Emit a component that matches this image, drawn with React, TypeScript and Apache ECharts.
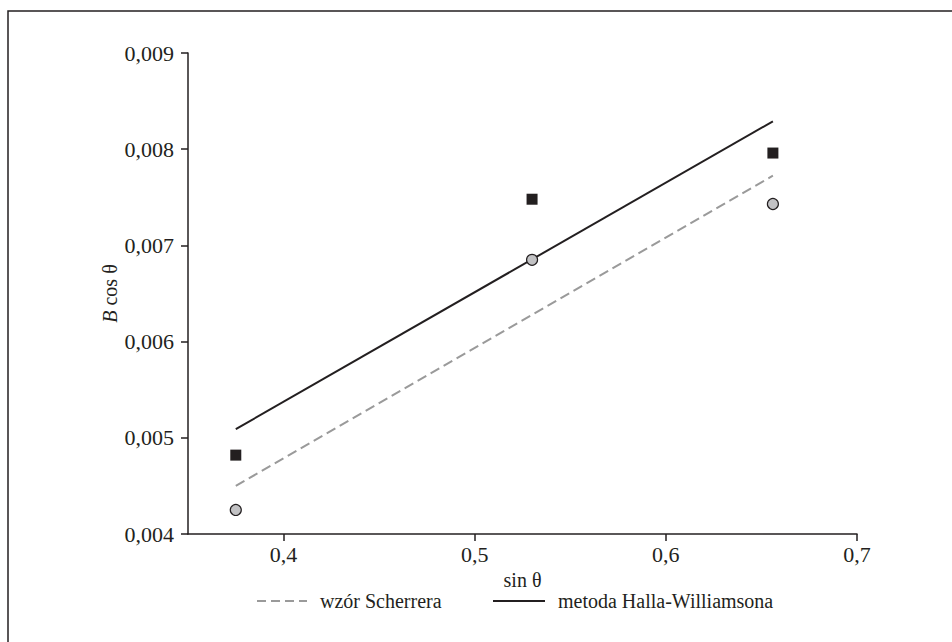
import React, { useEffect, useRef } from "react";
import * as echarts from "echarts";

const xTicks = [0.4, 0.5, 0.6, 0.7];
const scherrerPoints = [
  [0.375, 0.00425],
  [0.53, 0.00685],
  [0.656, 0.00743],
];
const hallPoints = [
  [0.375, 0.00482],
  [0.53, 0.00748],
  [0.656, 0.00796],
];
const scherrerLine = [
  [0.375, 0.0045],
  [0.656, 0.007725],
];
const hallLine = [
  [0.375, 0.00509],
  [0.656, 0.00829],
];
const seriesNames = ["wzór Scherrera", "metoda Halla-Williamsona"];

const FONT = "'Liberation Serif', 'DejaVu Serif', serif";
const INK = "#231f20";
const GRAY = "#9a9a9a";

export default function App() {
  const ref = useRef<HTMLDivElement>(null);
  useEffect(() => {
    if (!ref.current) return;
    const chart = echarts.init(ref.current, null, { renderer: "svg" });
    const legendY = 601;
    chart.setOption({
      animation: false,
      backgroundColor: "#ffffff",
      textStyle: { fontFamily: FONT, color: INK },
      grid: { left: 188, top: 53, right: 95, bottom: 108 },
      graphic: [
        {
          type: "rect",
          x: 8,
          y: 11,
          shape: { x: 0, y: 0, width: 1000, height: 700 },
          style: { fill: "none", stroke: INK, lineWidth: 1.5 },
          z: 0,
        },
        {
          type: "line",
          shape: { x1: 257, y1: legendY, x2: 307, y2: legendY },
          style: { stroke: GRAY, lineWidth: 2, lineDash: [9, 5] },
        },
        {
          type: "text",
          x: 320,
          y: legendY,
          style: {
            text: seriesNames[0],
            font: `20px ${FONT}`,
            fill: INK,
            verticalAlign: "middle",
            align: "left",
          },
        },
        {
          type: "line",
          shape: { x1: 493, y1: legendY, x2: 545, y2: legendY },
          style: { stroke: INK, lineWidth: 2 },
        },
        {
          type: "text",
          x: 558,
          y: legendY,
          style: {
            text: seriesNames[1],
            font: `20px ${FONT}`,
            fill: INK,
            verticalAlign: "middle",
            align: "left",
          },
        },
      ],
      xAxis: {
        type: "value",
        min: 0.35,
        max: 0.7,
        name: "sin θ",
        nameLocation: "middle",
        nameGap: 36,
        nameMoveOverlap: false,
        nameTextStyle: { fontFamily: FONT, fontSize: 20, color: INK },
        splitLine: { show: false },
        axisLine: { show: true, onZero: false, lineStyle: { color: INK, width: 1.5 } },
        axisTick: {
          show: true,
          customValues: xTicks,
          length: 7,
          inside: false,
          lineStyle: { color: INK, width: 1.5 },
        },
        axisLabel: {
          customValues: xTicks,
          margin: 9,
          fontFamily: FONT,
          fontSize: 22,
          color: INK,
          formatter: (v: number) => v.toFixed(1).replace(".", ","),
        },
      },
      yAxis: {
        type: "value",
        min: 0.004,
        max: 0.009,
        interval: 0.001,
        name: "{i|B} cos θ",
        nameLocation: "middle",
        nameGap: 68,
        nameMoveOverlap: false,
        nameTextStyle: {
          fontFamily: FONT,
          fontSize: 20,
          color: INK,
          rich: { i: { fontStyle: "italic", fontFamily: FONT, fontSize: 20, color: INK } },
        },
        splitLine: { show: false },
        axisLine: { show: true, onZero: false, lineStyle: { color: INK, width: 1.5 } },
        axisTick: { show: true, length: 7, lineStyle: { color: INK, width: 1.5 } },
        axisLabel: {
          margin: 14,
          fontFamily: FONT,
          fontSize: 22,
          color: INK,
          formatter: (v: number) => v.toFixed(3).replace(".", ","),
        },
      },
      series: [
        {
          name: seriesNames[0],
          type: "line",
          data: scherrerLine,
          symbol: "none",
          itemStyle: { color: GRAY },
          lineStyle: { color: GRAY, width: 2, type: [10, 5] },
          z: 2,
        },
        {
          name: seriesNames[1],
          type: "line",
          data: hallLine,
          symbol: "none",
          itemStyle: { color: INK },
          lineStyle: { color: INK, width: 2, type: "solid" },
          z: 2,
        },
        {
          name: "scherrer-pts",
          type: "scatter",
          data: scherrerPoints,
          symbol: "circle",
          symbolSize: 11,
          itemStyle: { color: "#c2c2c4", borderColor: INK, borderWidth: 1.2, opacity: 1 },
          z: 3,
        },
        {
          name: "hall-pts",
          type: "scatter",
          data: hallPoints,
          symbol: "rect",
          symbolSize: 11,
          itemStyle: { color: INK, opacity: 1 },
          z: 3,
        },
      ],
    });
    return () => chart.dispose();
  }, []);
  return (
    <div
      ref={ref}
      style={{ position: "fixed", left: 0, top: 0, width: 952, height: 642 }}
    />
  );
}
